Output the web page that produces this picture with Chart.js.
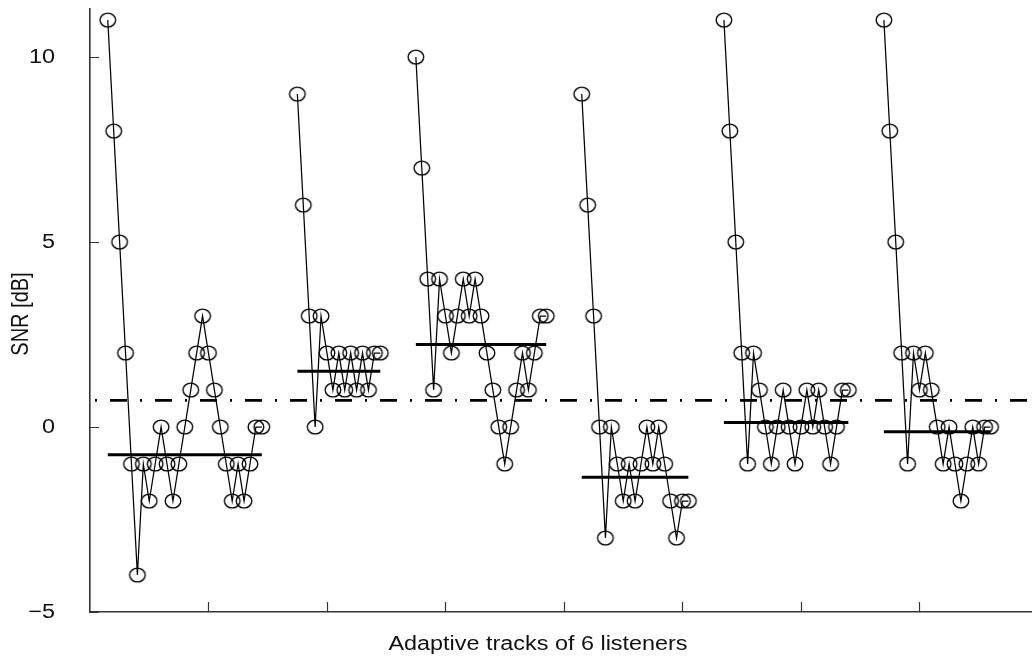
<!DOCTYPE html>
<html><head><meta charset="utf-8">
<script src="https://cdn.jsdelivr.net/npm/chart.js@4/dist/chart.umd.min.js"></script>
<style>html,body{margin:0;padding:0;background:#fff;} #wrap{width:1032px;height:659px;position:relative;}</style>
</head><body><div id="wrap"><canvas id="c" width="1032" height="659"></canvas></div>
<script>
// ---- data ----
const trackStarts = [3, 35, 55, 83, 107, 134];
const track1 = [11,8,5,2,-1,-4,-1,-2,-1,0,-1,-2,-1,0,1,2,3,2,1,0,-1,-2,-1,-2,-1,0,0];
const track2 = [9,6,3,0,3,2,1,2,1,2,1,2,1,2,2];
const track3 = [10,7,4,1,4,3,2,3,4,3,4,3,2,1,0,-1,0,1,2,1,2,3,3];
const track4 = [9,6,3,0,-3,0,-1,-2,-1,-2,-1,0,-1,0,-1,-2,-3,-2,-2];
const track5 = [11,8,5,2,-1,2,1,0,-1,0,1,0,-1,0,1,0,1,0,-1,0,1,1];
const track6 = [11,8,5,2,-1,2,1,2,1,0,-1,0,-1,-2,-1,0,-1,0,0];
const trackMeans = [-0.75, 1.51, 2.23, -1.36, 0.12, -0.13];
const referenceLevel = 0.72;
const xRange = [0, 159];
const yRange = [-5, 11.3];
const yTickValues = [-5, 0, 5, 10];
const yTickLabels = ['\u22125', '0', '5', '10'];
const xTickValues = [20, 40, 60, 80, 100, 120, 140];
const xTitle = 'Adaptive tracks of 6 listeners';
const yTitle = 'SNR [dB]';

// ---- styling helpers ----
const FONT = '"Liberation Sans", Arial, Helvetica, sans-serif';
const STRETCH = 1.17; // the figure is slightly wider than tall

function makeMarker() {
  const c = document.createElement('canvas');
  c.width = 20; c.height = 18;
  const g = c.getContext('2d');
  g.strokeStyle = '#000';
  g.lineWidth = 1.35;
  g.beginPath();
  g.ellipse(10, 9, 7.8, 6.9, 0, 0, Math.PI * 2);
  g.stroke();
  return c;
}
const marker = makeMarker();

// ---- build datasets ----
const tracks = [track1, track2, track3, track4, track5, track6];
const datasets = [];
tracks.forEach((vals, i) => {
  datasets.push({
    data: vals.map((v, k) => ({x: trackStarts[i] + k, y: v})),
    showLine: true,
    borderColor: '#000',
    borderWidth: 1.25,
    pointStyle: marker,
    pointRadius: 7,
    clip: false
  });
});
tracks.forEach((vals, i) => {
  datasets.push({
    data: [{x: trackStarts[i], y: trackMeans[i]}, {x: trackStarts[i] + vals.length - 1, y: trackMeans[i]}],
    showLine: true,
    borderColor: '#000',
    borderWidth: 3,
    pointRadius: 0,
    clip: false
  });
});
datasets.push({
  data: [{x: xRange[0], y: referenceLevel}, {x: xRange[1], y: referenceLevel}],
  showLine: true,
  borderColor: '#000',
  borderWidth: 2.6,
  borderDash: [17, 13, 2, 13],
  borderDashOffset: 25,
  pointRadius: 0
});

const extras = {
  id: 'extras',
  afterDraw(chart) {
    const {ctx, chartArea: a, scales: {x, y}} = chart;
    ctx.save();
    ctx.strokeStyle = '#333';
    ctx.lineWidth = 1.2;
    ctx.beginPath();
    xTickValues.forEach(v => {
      const px = Math.round(x.getPixelForValue(v)) + 0.5;
      ctx.moveTo(px, a.bottom); ctx.lineTo(px, a.bottom - 10);
    });
    yTickValues.forEach(v => {
      const py = Math.round(y.getPixelForValue(v)) + 0.5;
      ctx.moveTo(a.left, py); ctx.lineTo(a.left + 9, py);
    });
    ctx.stroke();
    ctx.fillStyle = '#111';
    ctx.font = '20px ' + FONT;
    ctx.textBaseline = 'middle';
    // y tick labels
    ctx.textAlign = 'right';
    yTickValues.forEach((v, i) => {
      const py = y.getPixelForValue(v);
      ctx.save();
      ctx.translate(a.left - 35, py);
      ctx.scale(STRETCH, 1);
      ctx.fillText(yTickLabels[i], 0, 0);
      ctx.restore();
    });
    // x title
    ctx.textAlign = 'center';
    ctx.save();
    ctx.translate(538, 644);
    ctx.scale(STRETCH, 1);
    ctx.fillText(xTitle, 0, 0);
    ctx.restore();
    // y title
    ctx.save();
    ctx.translate(22, 314);
    ctx.scale(STRETCH, 1);
    ctx.rotate(-Math.PI / 2);
    ctx.fillText(yTitle, 0, 0);
    ctx.restore();
    ctx.restore();
  }
};

new Chart(document.getElementById('c'), {
  type: 'scatter',
  data: {datasets},
  options: {
    responsive: false,
    animation: false,
    events: [],
    devicePixelRatio: 1,
    layout: {autoPadding: false, padding: {top: 9, right: 0, left: 0, bottom: 0}},
    plugins: {legend: {display: false}, tooltip: {enabled: false}},
    scales: {
      x: {
        type: 'linear', min: xRange[0], max: xRange[1],
        afterBuildTicks: s => { s.ticks = xTickValues.map(v => ({value: v})); },
        afterFit: s => { s.height = 47; s.paddingLeft = 0; s.paddingRight = 0; },
        ticks: {display: false},
        grid: {display: true, drawOnChartArea: false, drawTicks: false},
        border: {display: true, color: '#333', width: 1.6}
      },
      y: {
        type: 'linear', min: yRange[0], max: yRange[1],
        afterBuildTicks: s => { s.ticks = yTickValues.map(v => ({value: v})); },
        afterFit: s => { s.width = 90; s.paddingTop = 0; s.paddingBottom = 0; },
        ticks: {display: false},
        grid: {display: true, drawOnChartArea: false, drawTicks: false},
        border: {display: true, color: '#333', width: 1.6}
      }
    }
  },
  plugins: [extras]
});
</script>
</body></html>
